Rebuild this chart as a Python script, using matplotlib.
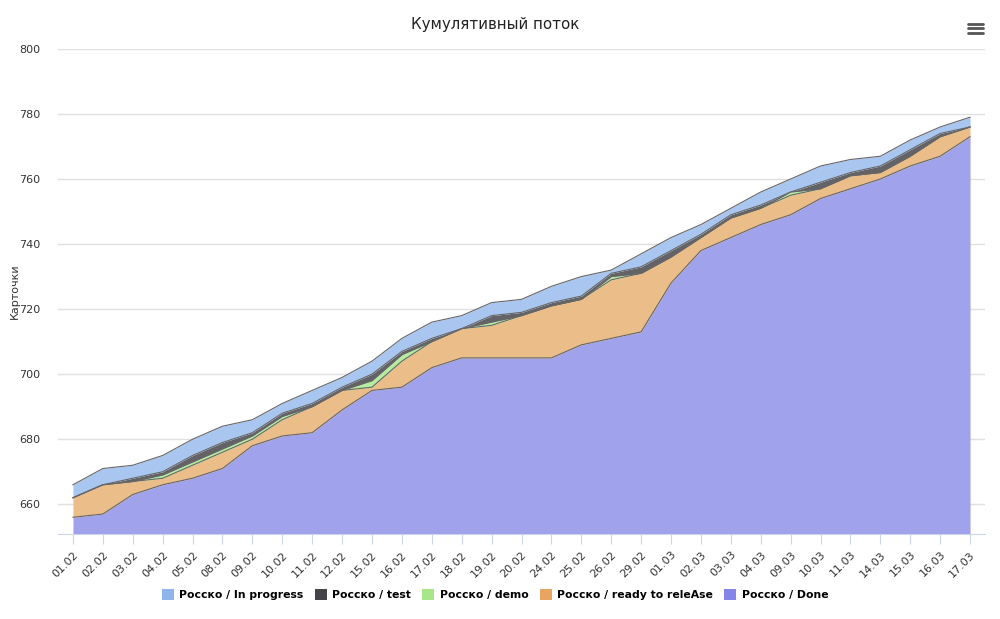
import matplotlib
matplotlib.use("Agg")
import matplotlib.pyplot as plt
from matplotlib.patches import Patch
from matplotlib.lines import Line2D
import numpy as np

dates = ["01.02", "02.02", "03.02", "04.02", "05.02", "08.02", "09.02", "10.02",
         "11.02", "12.02", "15.02", "16.02", "17.02", "18.02", "19.02", "20.02",
         "24.02", "25.02", "26.02", "29.02", "01.03", "02.03", "03.03", "04.03",
         "09.03", "10.03", "11.03", "14.03", "15.03", "16.03", "17.03"]

done = [656, 657, 663, 666, 668, 671, 678, 681, 682, 689, 695, 696, 702, 705, 705, 705,
        705, 709, 711, 713, 728, 738, 742, 746, 749, 754, 757, 760, 764, 767, 773]
ready = [6, 9, 4, 2, 4, 5, 2, 5, 8, 6, 1, 8, 8, 9, 10, 13,
         16, 14, 18, 18, 8, 4, 6, 5, 6, 3, 4, 2, 3, 6, 3]
demo = [0, 0, 0, 1, 1, 1, 1, 1, 0, 0, 2, 2, 0, 0, 1, 0,
        0, 0, 1, 0, 0, 0, 0, 0, 1, 0, 0, 0, 0, 0, 0]
test = [0, 0, 1, 1, 2, 2, 1, 1, 1, 1, 2, 1, 1, 0, 2, 1,
        1, 1, 1, 2, 2, 1, 1, 1, 0, 2, 1, 2, 2, 1, 0]
in_progress = [4, 5, 4, 5, 5, 5, 4, 3, 4, 3, 4, 4, 5, 4, 4, 4,
               5, 6, 1, 4, 4, 3, 2, 4, 4, 5, 4, 3, 3, 2, 3]

names = ["Росско / In progress", "Росско / test", "Росско / demo",
         "Росско / ready to releAse", "Росско / Done"]

legend_colors = ["#8fb4ec", "#434348", "#a8e68a", "#e8a461", "#8585e8"]
fill_colors = ["#a9c6f1", "#636367", "#b5ec9f", "#ebbd89", "#a0a2ec"]

x = np.arange(len(dates))
layers = [done, ready, demo, test, in_progress]   # bottom to top
layer_fill = fill_colors[::-1]

fig = plt.figure(figsize=(10, 6.19), dpi=100)
ax = fig.add_axes([0.058, 0.137, 0.927, 0.784])

base = np.zeros(len(dates))
for i, (vals, col) in enumerate(zip(layers, layer_fill)):
    top = base + np.array(vals)
    lower = np.full(len(dates), 600.0) if i == 0 else base
    ax.fill_between(x, lower, top, color=col, linewidth=0, zorder=2)
    ax.plot(x, top, color="#666666", linewidth=0.8, zorder=3)
    base = top

ax.set_xlim(-0.5, len(dates) - 0.5)
ax.set_ylim(650.8, 800)
ax.set_yticks(np.arange(660, 801, 20))
ax.yaxis.grid(True, color="#e0e0e0", linewidth=1, zorder=0)
ax.set_axisbelow(True)
ax.set_xticks(x)
ax.set_xticklabels(dates, rotation=45, ha="right", rotation_mode="anchor",
                   fontsize=8, color="#333333")
ax.tick_params(axis="x", length=7, color="#ccd6eb", pad=4)
ax.tick_params(axis="y", length=0, pad=13, labelsize=8, labelcolor="#333333")
for s in ["left", "right", "top"]:
    ax.spines[s].set_visible(False)
ax.spines["bottom"].set_color("#ccd6eb")

fig.text(0.015, 0.53, "Карточки", rotation=90, ha="center", va="center",
         fontsize=8, color="#333333")

fig.text(0.495, 0.96, "Кумулятивный поток", ha="center", va="center",
         fontsize=10.8, color="#222222")

# menu icon
for yy in [0.946, 0.954, 0.962]:
    fig.add_artist(Line2D([0.968, 0.983], [yy, yy], color="#555555",
                          linewidth=2.0, solid_capstyle="round"))

handles = [Patch(facecolor=c, edgecolor="none") for c in legend_colors]
fig.legend(handles, names, loc="center", bbox_to_anchor=(0.495, 0.039), ncol=5,
           frameon=False, handlelength=1.1, handleheight=1.1,
           handletextpad=0.5, columnspacing=1.05, prop={"weight": "bold", "size": 7.8})

fig.savefig("out.png", dpi=100)
